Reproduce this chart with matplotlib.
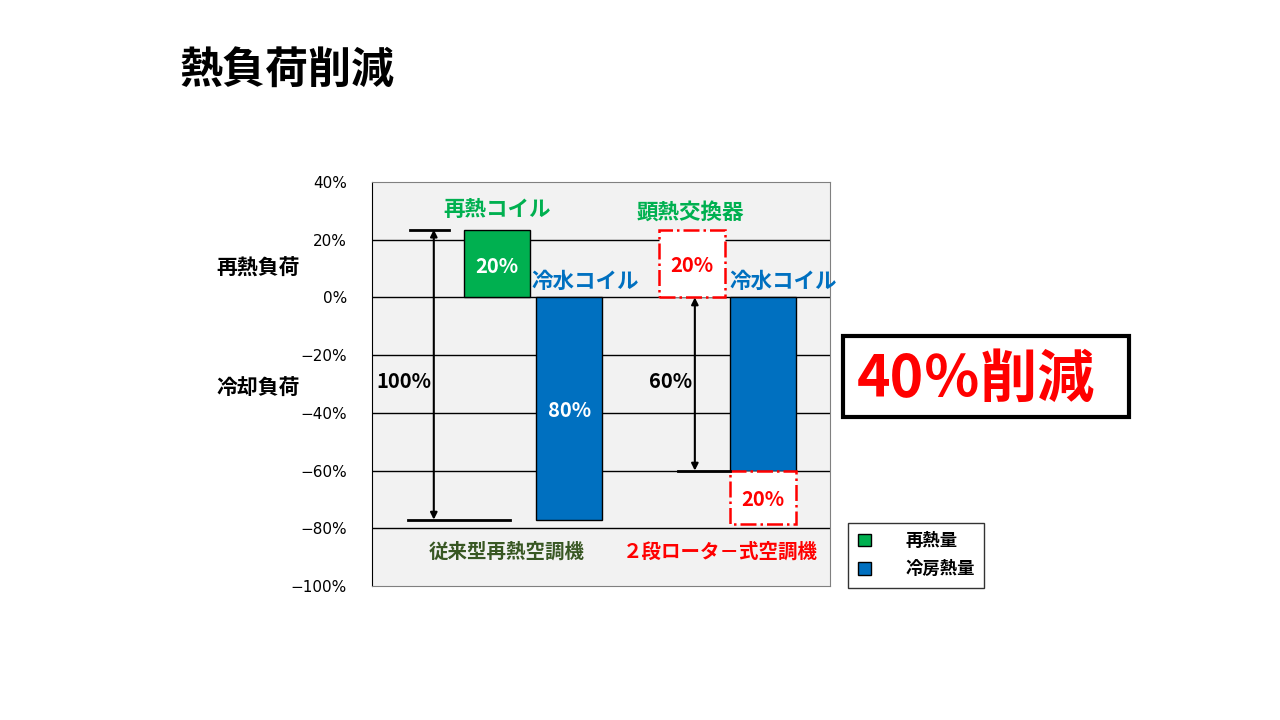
import matplotlib
matplotlib.use('Agg')
import matplotlib.pyplot as plt
from matplotlib.patches import Rectangle, Patch

plt.rcParams['font.family'] = ['Noto Sans CJK JP', 'DejaVu Sans']

# values (percent of load)
yticks = [40, 20, 0, -20, -40, -60, -80, -100]
bar_x = [0.273, 0.431, 0.854]            # reheat coil, chilled coil (conv), chilled coil (rotor)
bar_val = [23.5, -77, -60]
bar_colors = ['#00b050', '#0070c0', '#0070c0']
box_x = [0.699, 0.854]                   # heat exchanger box, reduction box
box_bottom = [0, -60]
box_height = [23.5, -18.5]
bar_w = 0.144

GREEN = '#00b050'
BLUE = '#0070c0'
RED = '#ff0000'

fig = plt.figure(figsize=(12.8, 7.2), dpi=100)
ax = fig.add_axes([0.2906, 0.1861, 0.3578, 0.5611])
ax.set_facecolor('#f2f2f2')
ax.set_xlim(0, 1)
ax.set_ylim(-100, 40)
ax.set_yticks(yticks)
ax.set_yticklabels([f'{t}%'.replace('-', '\u2212') for t in yticks], fontsize=11,
                   family=['Liberation Sans Narrow', 'DejaVu Sans'])
ax.set_xticks([])
ax.tick_params(axis='y', length=0, pad=18)
for t in yticks[1:-1]:
    ax.axhline(t, color='black', lw=1, zorder=1)
for s in ['top', 'right', 'bottom']:
    ax.spines[s].set_color('#808080')
ax.spines['left'].set_color('black')

# bars
ax.bar(bar_x, bar_val, width=bar_w, color=bar_colors, edgecolor='black', lw=1, zorder=3)
ax.bar(box_x, box_height, bottom=box_bottom, width=bar_w, color='white',
       edgecolor=RED, lw=1.8, linestyle='-.', zorder=3)

# arrows
def dbl_arrow(x, y0, y1):
    ax.annotate('', xy=(x, y1), xytext=(x, y0),
                arrowprops=dict(arrowstyle='<|-|>', color='black', lw=1.5,
                                mutation_scale=10, shrinkA=0, shrinkB=0), zorder=4)

dbl_arrow(0.135, 23.5, -77)
ax.plot([0.083, 0.168], [23.5, 23.5], color='black', lw=2, zorder=4)
ax.plot([0.079, 0.301], [-77, -77], color='black', lw=2, zorder=4)
dbl_arrow(0.705, 0, -60)
ax.plot([0.668, 0.782], [-60, -60], color='black', lw=2, zorder=4)

# labels inside plot
bold = dict(fontweight='bold', ha='center', va='center', zorder=5)
ax.text(0.273, 30.6, '再熱コイル', color=GREEN, fontsize=15.5, **bold)
ax.text(0.694, 29.6, '顕熱交換器', color=GREEN, fontsize=15.5, **bold)
ax.text(0.465, 5.6, '冷水コイル', color=BLUE, fontsize=15.5, **bold)
ax.text(0.897, 5.6, '冷水コイル', color=BLUE, fontsize=15.5, **bold)
ax.text(0.273, 10.8, '20%', color='white', fontsize=14.5, **bold)
ax.text(0.431, -39.3, '80%', color='white', fontsize=14.5, **bold)
ax.text(0.699, 11.1, '20%', color=RED, fontsize=14.5, **bold)
ax.text(0.854, -69.9, '20%', color=RED, fontsize=14.5, **bold)
ax.text(0.07, -29.2, '100%', color='black', fontsize=14.5, **bold)
ax.text(0.653, -29.2, '60%', color='black', fontsize=14.5, **bold)
ax.text(0.295, -88.3, '従来型再熱空調機', color='#385723', fontsize=14, **bold)
ax.text(0.76, -88.3, '２段ロータ－式空調機', color=RED, fontsize=14, **bold)

# labels outside
fig.text(0.1406, 0.9028, '熱負荷削減', fontsize=31, fontweight='bold', ha='left', va='center')
fig.text(0.2016, 0.6278, '再熱負荷', fontsize=15, fontweight='bold', ha='center', va='center')
fig.text(0.2016, 0.4611, '冷却負荷', fontsize=15, fontweight='bold', ha='center', va='center')

fig.patches.append(Rectangle((0.6586, 0.4208), 0.2234, 0.1125, transform=fig.transFigure,
                             facecolor='white', edgecolor='black', lw=3))
fig.text(0.6695, 0.4722, '40％削減', fontsize=41, fontweight='bold', color=RED,
         ha='left', va='center')

handles = [Patch(facecolor=GREEN, edgecolor='black', label='再熱量'),
           Patch(facecolor=BLUE, edgecolor='black', label='冷房熱量')]
leg = fig.legend(handles=handles, loc='lower left', bbox_to_anchor=(0.6625, 0.1833),
                 frameon=True, fancybox=False, edgecolor='black', fontsize=12.5,
                 handlelength=0.75, handleheight=0.75, handletextpad=2.0,
                 borderpad=0.55, labelspacing=0.6, borderaxespad=0)
for t in leg.get_texts():
    t.set_fontweight('bold')
leg.get_frame().set_linewidth(1)

fig.savefig('out.png', dpi=100)
